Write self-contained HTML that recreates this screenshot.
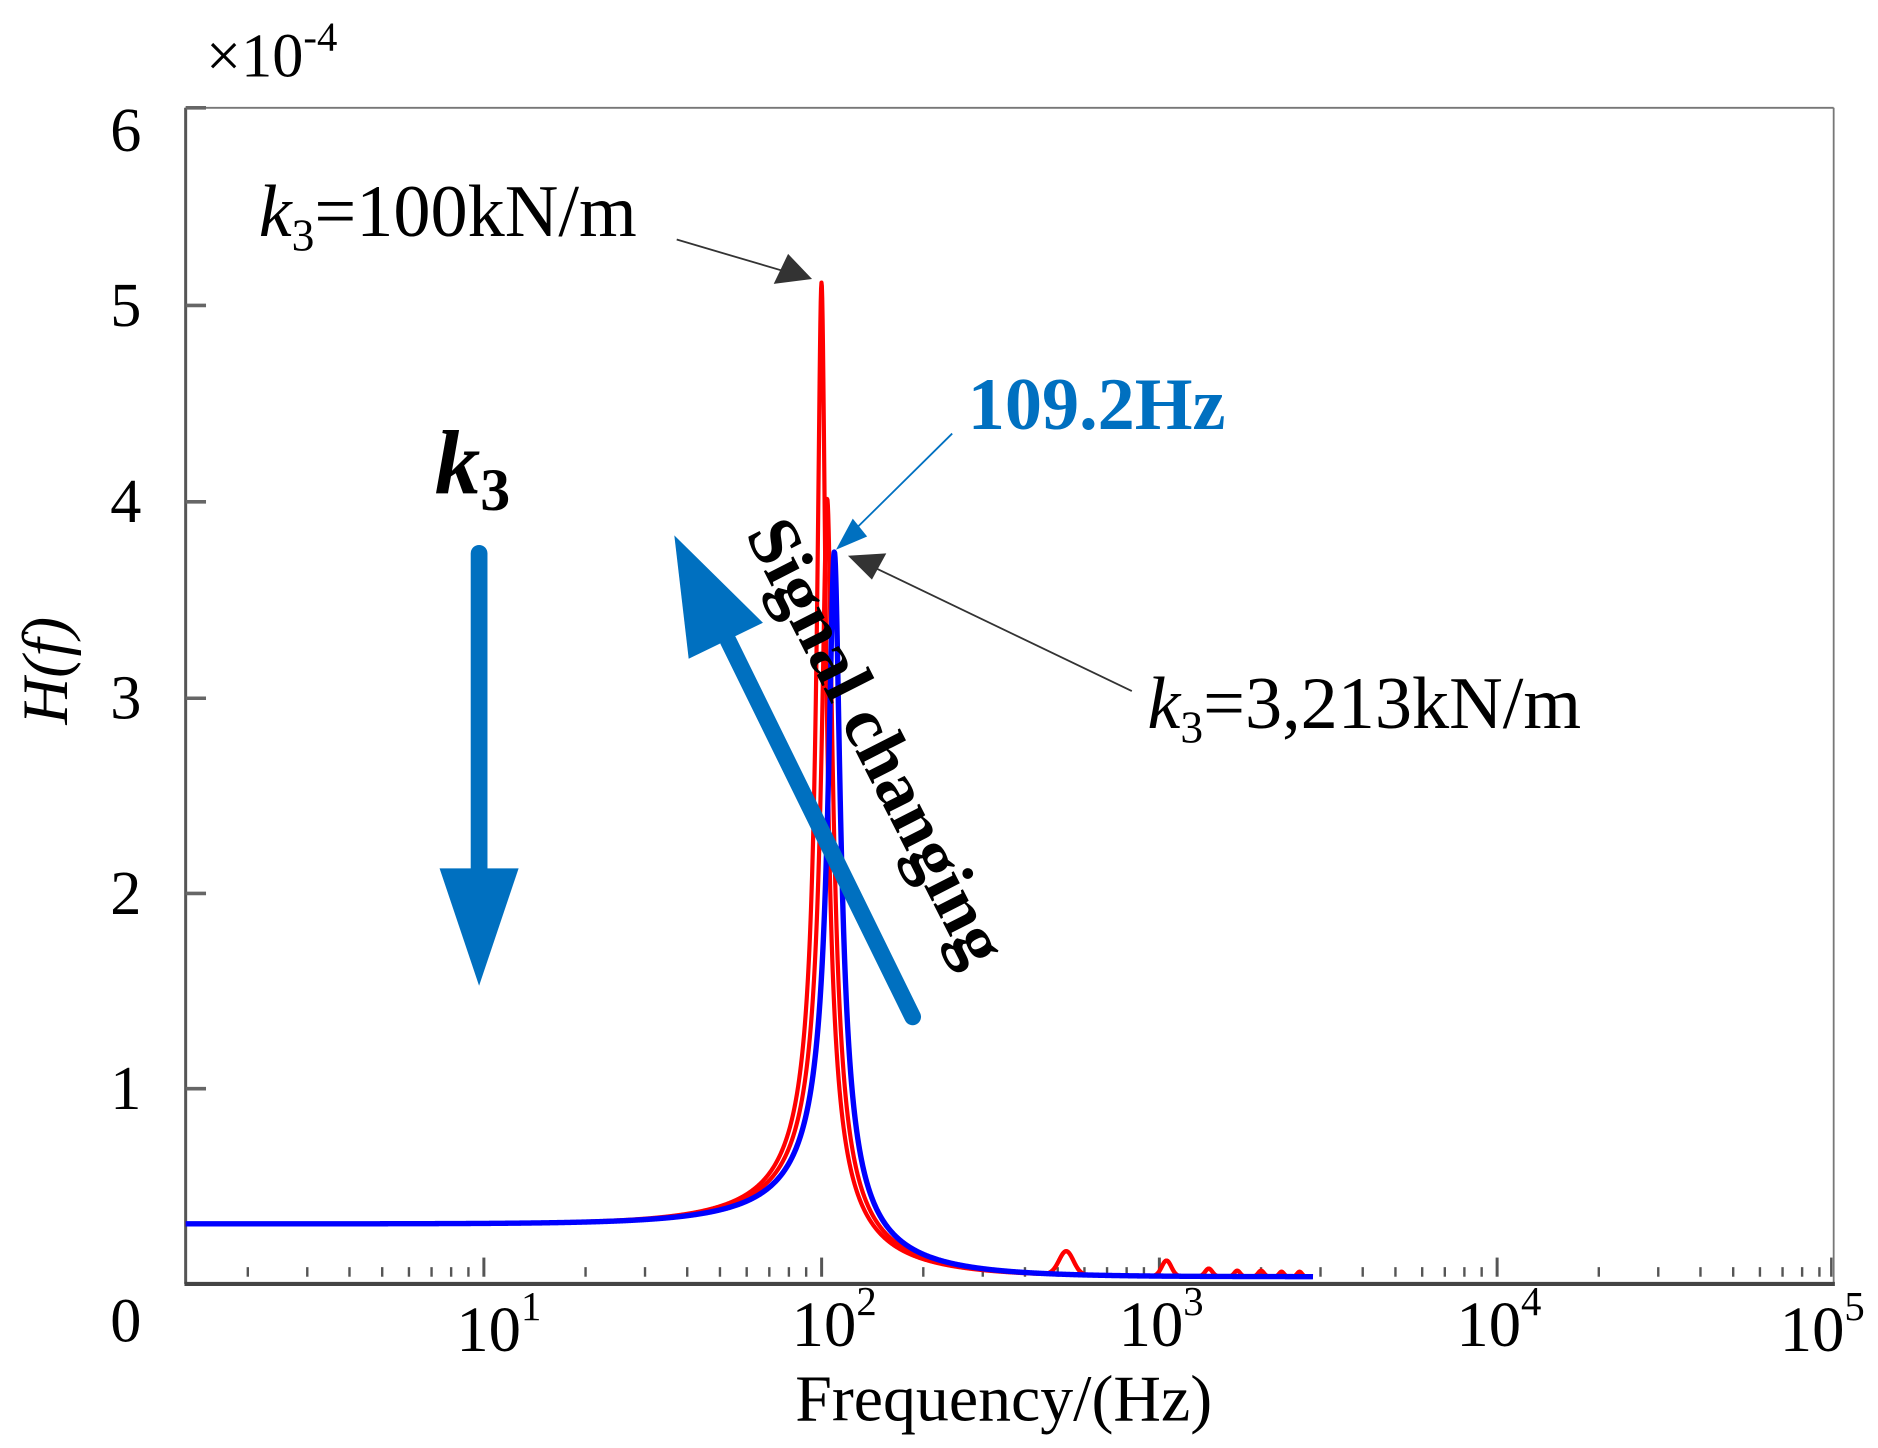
<!DOCTYPE html>
<html><head><meta charset="utf-8"><style>
html,body{margin:0;padding:0;background:#fff;}
svg{display:block;}
text{font-family:"Liberation Serif",serif;}
</style></head><body>
<svg id="s" width="1878" height="1448" viewBox="0 0 1568 1209" xmlns="http://www.w3.org/2000/svg">
<rect x="0" y="0" width="1568" height="1209" fill="#fff"/>
<g id="ticks" stroke="#555" stroke-width="2"></g>
<line x1="155" y1="90" x2="1531" y2="90" stroke="#777" stroke-width="1.5"/>
<line x1="1531" y1="90" x2="1531" y2="1072" stroke="#777" stroke-width="1.5"/>
<line x1="155" y1="90" x2="155" y2="1072" stroke="#555" stroke-width="2.5"/>
<line x1="154" y1="1072" x2="1532" y2="1072" stroke="#444" stroke-width="3.5"/>
<g stroke="#666" stroke-width="3">
<line x1="155" y1="90" x2="172" y2="90"/><line x1="155" y1="255" x2="172" y2="255"/>
<line x1="155" y1="419" x2="172" y2="419"/><line x1="155" y1="583" x2="172" y2="583"/>
<line x1="155" y1="746" x2="172" y2="746"/><line x1="155" y1="909" x2="172" y2="909"/>
</g>
<g font-size="52" text-anchor="middle" fill="#000">
<text x="105" y="126">6</text><text x="105" y="272">5</text><text x="105" y="436">4</text>
<text x="105" y="600">3</text><text x="105" y="763">2</text><text x="105" y="926">1</text>
<text x="105" y="1120">0</text>
</g>
<text x="172" y="64" font-size="52">×10<tspan font-size="34" dy="-22">-4</tspan></text>
<g font-size="54" fill="#000">
<text x="381" y="1128">10<tspan font-size="34" dy="-26">1</tspan></text>
<text x="661" y="1124">10<tspan font-size="34" dy="-26">2</tspan></text>
<text x="934" y="1124">10<tspan font-size="34" dy="-26">3</tspan></text>
<text x="1216" y="1124">10<tspan font-size="34" dy="-26">4</tspan></text>
<text x="1486" y="1128">10<tspan font-size="34" dy="-26">5</tspan></text>
</g>
<text x="838" y="1186" font-size="55" text-anchor="middle">Frequency/(Hz)</text>
<text transform="translate(56,560) rotate(-90)" font-size="54" text-anchor="middle" font-style="italic">H(f)</text>
<g id="curves" fill="none" stroke-linejoin="round"></g>
<text x="216" y="197" font-size="62"><tspan font-style="italic">k</tspan><tspan font-size="38" dy="12">3</tspan><tspan dy="-12">=100kN/m</tspan></text>
<line x1="565" y1="200" x2="660" y2="228" stroke="#333" stroke-width="1.5"/>
<polygon points="678,233 646,237 658,212" fill="#333"/>
<text x="808" y="358" font-size="62" font-weight="bold" fill="#0070c0">109.2Hz</text>
<line x1="795" y1="362" x2="710" y2="446" stroke="#0070c0" stroke-width="1.5"/>
<polygon points="698,459 712,433 724,448" fill="#0070c0"/>
<text x="958" y="608" font-size="62"><tspan font-style="italic">k</tspan><tspan font-size="38" dy="12">3</tspan><tspan dy="-12">=3,213kN/m</tspan></text>
<line x1="945" y1="577" x2="722" y2="470" stroke="#333" stroke-width="1.5"/>
<polygon points="708,464 740,462 728,484" fill="#333"/>
<text x="363" y="412" font-size="76" font-weight="bold" font-style="italic">k<tspan font-size="50" dy="14" font-style="normal">3</tspan></text>
<line x1="400" y1="462" x2="400" y2="735" stroke="#0070c0" stroke-width="14" stroke-linecap="round"/>
<polygon points="367,725 433,725 400,823" fill="#0070c0"/>
<line x1="762" y1="849" x2="608" y2="535" stroke="#0070c0" stroke-width="14" stroke-linecap="round"/>
<polygon points="563,447 575,550 637,520" fill="#0070c0"/>
<text transform="translate(622,446) rotate(63)" font-size="60" font-weight="bold">Signal changing</text>
</svg>
<script>
(function(){
var NS="http://www.w3.org/2000/svg";
function X(f){return 686+282*(Math.log10(f)-2);}
var t=document.getElementById('ticks');
for(var d=0;d<5;d++){for(var k=1;k<=9;k++){var f=Math.pow(10,d)*k;var x=X(f);if(x<158||x>1531)continue;
var l=document.createElementNS(NS,'line');var major=(k==1);
l.setAttribute('x1',x);l.setAttribute('x2',x);l.setAttribute('y1',1066);l.setAttribute('y2',major?1050:1058);
if(major)l.setAttribute('stroke-width','2.5');t.appendChild(l);}}
var l2=document.createElementNS(NS,'line');l2.setAttribute('x1',1529);l2.setAttribute('x2',1529);l2.setAttribute('y1',1066);l2.setAttribute('y2',1050);t.appendChild(l2);
function H(f,f0,z){var r=f/f0;return 0.27/Math.sqrt(Math.pow(1-r*r,2)+Math.pow(2*z*r,2));}
function bumps(f){var b=[[530,0.12,0.03],[1050,0.08,0.02],[1400,0.04,0.015],[1700,0.03,0.012],[2000,0.03,0.012],[2300,0.025,0.01],[2600,0.025,0.01]];var s=0;var lf=Math.log10(f);
for(var i=0;i<b.length;i++){var dd=(lf-Math.log10(b[i][0]))/b[i][2];s+=b[i][1]*Math.exp(-dd*dd);}return s;}
function path(f0,z,col,w,bm){var lo=0.117,hi=Math.log10(2850),d='';var n=3000;
for(var i=0;i<=n;i++){var lf=lo+(hi-lo)*i/n;var f=Math.pow(10,lf);var h=H(f,f0,z)+(bm?bumps(f):0);var y=1066-163.5*h;
d+=(i?'L':'M')+X(f).toFixed(2)+','+y.toFixed(2);}
var p=document.createElementNS(NS,'path');p.setAttribute('d',d);p.setAttribute('stroke',col);p.setAttribute('stroke-width',w);document.getElementById('curves').appendChild(p);}
path(100,0.0266,'#ff0000',3.5,true);
path(104,0.034,'#ff0000',3.5,true);
path(109.2,0.0365,'#0000ff',4.5,false);
})();
</script>
</body></html>
